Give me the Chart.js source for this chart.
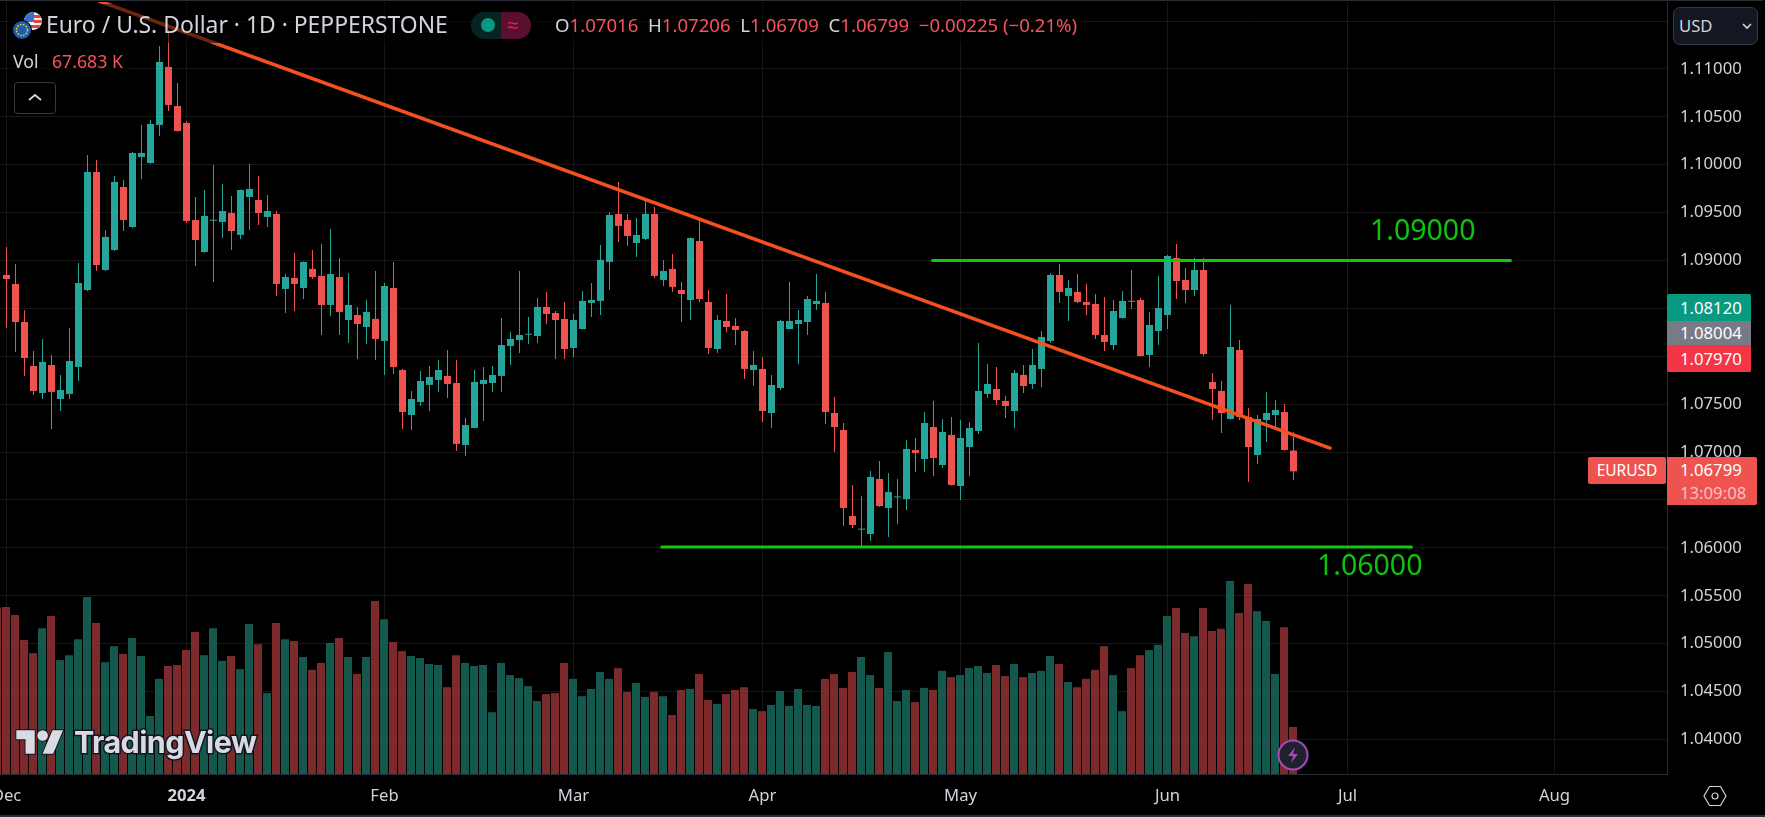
<!DOCTYPE html>
<html>
<head>
<meta charset="utf-8">
<title>EURUSD 1D</title>
<script src="https://cdn.jsdelivr.net/npm/chart.js@4/dist/chart.umd.min.js"></script>
<style>
    html, body { margin: 0; padding: 0; background: #000; overflow: hidden; }
    body { width: 1765px; height: 817px; position: relative; font-family: "Noto Sans", sans-serif; color: #d1d4dc; }
    canvas { position: absolute; left: 0; top: 0; }
    .abs { position: absolute; white-space: nowrap; }
    .up { color: #f7525f; }
    .tag { position: absolute; left: 1667px; width: 84px; padding-left: 13px; box-sizing: border-box; color: #fff; font-size: 16.7px; }
</style>
</head>
<body>
<canvas id="the-chart" width="1765" height="817"></canvas>

<div class="abs" style="left:0;top:0;width:1763px;height:1px;background:#2a2e39"></div>
<div class="abs" style="left:0;top:815px;width:1765px;height:2px;background:#2a2e39"></div>

<!-- legend, translucent so the trend line fades under it -->
<div class="abs" style="left:8px;top:4px;width:1076px;height:39px;background:rgba(0,0,0,.55)"></div>
<div class="abs" style="left:8px;top:47px;width:122px;height:27px;background:rgba(0,0,0,.55)"></div>
<svg class="abs" style="left:10px;top:10px" width="34" height="32" viewBox="0 0 34 32">
    <defs><clipPath id="us"><circle cx="23" cy="11" r="9"/></clipPath></defs>
    <g clip-path="url(#us)">
        <rect x="14" y="2" width="18" height="18" fill="#f5f5f5"/>
        <rect x="24" y="5" width="8" height="3" fill="#e04545"/>
        <rect x="24" y="10" width="8" height="3" fill="#e04545"/>
        <rect x="18" y="15" width="14" height="3" fill="#e04545"/>
        <rect x="14" y="2" width="10" height="10" fill="#3d6fd0"/>
    </g>
    <circle cx="12" cy="20" r="10" fill="#000"/>
    <circle cx="12" cy="20" r="9" fill="#1a5cb0"/>
    <circle cx="12" cy="20" r="5.5" fill="none" stroke="#e8c832" stroke-width="1.6" stroke-dasharray="1.6 1.3"/>
</svg>
<div class="abs" style="left:46px;top:9px;font-size:22.9px;line-height:32px">Euro / U.S. Dollar · 1D · PEPPERSTONE</div>
<div class="abs" style="left:471px;top:12px;width:30px;height:27px;background:#082420;border-radius:14px 0 0 14px"></div>
<div class="abs" style="left:501px;top:12px;width:30px;height:27px;background:#5b0f2e;border-radius:0 14px 14px 0;color:#e91e63;font-size:20px;line-height:25px;text-align:center;padding-right:6px;box-sizing:border-box">≈</div>
<div class="abs" style="left:481px;top:18px;width:14px;height:14px;border-radius:7px;background:#089981"></div>
<div class="abs" style="left:555px;top:12px;font-size:18.6px;line-height:26px">O<span class="up">1.07016</span>&nbsp;&nbsp;H<span class="up">1.07206</span>&nbsp;&nbsp;L<span class="up">1.06709</span>&nbsp;&nbsp;C<span class="up">1.06799</span>&nbsp;&nbsp;<span class="up">−0.00225 (−0.21%)</span></div>
<div class="abs" style="left:13px;top:48px;font-size:17.7px;line-height:26px">Vol</div>
<div class="abs up" style="left:52px;top:48px;font-size:17.7px;line-height:26px">67.683 K</div>
<div class="abs" style="left:14px;top:82px;width:40px;height:30px;border:1px solid #363a45;border-radius:4px;box-sizing:content-box">
    <svg width="40" height="30" viewBox="0 0 40 30"><path d="M14 17l6-5 6 5" fill="none" stroke="#d1d4dc" stroke-width="1.8"/></svg>
</div>

<!-- drawn labels next to the levels -->
<div class="abs" style="left:1370px;top:209px;font-size:28.5px;line-height:40px;color:#0fc20f">1.09000</div>
<div class="abs" style="left:1317px;top:544px;font-size:28.5px;line-height:40px;color:#0fc20f">1.06000</div>

<!-- currency button -->
<div class="abs" style="left:1673px;top:7px;width:83px;height:36px;background:#131722;border:1px solid #363a45;border-radius:7px;font-size:16.7px;line-height:36px">
    <span style="margin-left:5px">USD</span>
    <svg style="position:absolute;left:67px;top:14px" width="12" height="8" viewBox="0 0 12 8"><path d="M2 2l4 4 4-4" fill="none" stroke="#d1d4dc" stroke-width="1.6"/></svg>
</div>

<!-- price scale tags -->
<div class="tag" style="top:294px;height:27px;line-height:27px;background:#089981;border-radius:2px 2px 0 0">1.08120</div>
<div class="tag" style="top:321px;height:24px;line-height:24px;background:#787b86">1.08004</div>
<div class="tag" style="top:345px;height:27px;line-height:27px;background:#f23645;border-radius:0 0 2px 2px">1.07970</div>
<div class="abs" style="left:1588px;top:457px;width:78px;height:27px;line-height:27px;background:#ef5350;border-radius:2px;color:#fff;font-size:15.5px;text-align:center">EURUSD</div>
<div class="abs" style="left:1667px;top:457px;width:90px;height:48px;background:#ef5350;border-radius:0 2px 2px 0;color:#fff;font-size:16.7px;padding-left:13px;box-sizing:border-box">
    <div style="line-height:25px">1.06799</div>
    <div style="line-height:22px;color:rgba(255,255,255,.65)">13:09:08</div>
</div>

<!-- watermark -->
<svg class="abs" style="left:15px;top:728px" width="50" height="28" viewBox="-1 3 38 20">
    <path d="M14 22H7V11H0V4h14v18zM28 22h-8l7.5-18h8L28 22z" fill="#d9dae3" stroke="#131722" stroke-width="1.4" paint-order="stroke"/>
    <circle cx="20" cy="8" r="4" fill="#d9dae3" stroke="#131722" stroke-width="1.4" paint-order="stroke"/>
</svg>
<div class="abs" style="left:74px;top:722px;font-family:Inter,sans-serif;font-weight:700;font-size:30.5px;line-height:40px;letter-spacing:-.6px;color:#d9dae3;-webkit-text-stroke:3px #131722;paint-order:stroke fill">TradingView</div>

<!-- lightning badge -->
<svg class="abs" style="left:1277px;top:739px" width="32" height="32" viewBox="0 0 32 32">
    <circle cx="16" cy="16" r="14.5" fill="#1e222d" stroke="#ab47bc" stroke-width="2"/>
    <path d="M18 8l-7 9h5l-2 7 7-9h-5z" fill="#ab47bc"/>
</svg>

<!-- settings icon -->
<svg class="abs" style="left:1703px;top:785px" width="24" height="22" viewBox="0 0 24 22">
    <path d="M6.5 1.5h11L23 11l-5.5 9.5h-11L1 11z" fill="none" stroke="#d1d4dc" stroke-width="1.2"/>
    <circle cx="12" cy="11" r="3" fill="none" stroke="#d1d4dc" stroke-width="1.2"/>
</svg>

<script>
/*
 *  Daily EURUSD candles, one entry per bar
 */

const opens = [
    1.08849,1.08755,1.08358,1.07899,1.07617,1.07909,1.07554,1.07607,1.07889,1.08692,1.09924,1.08901,
    1.09110,1.09768,1.09350,1.10081,1.10018,1.10415,1.11021,1.10613,1.10436,1.09423,1.09089,1.09415,
    1.09402,1.09496,1.09267,1.09663,1.09632,1.09455,1.09486,1.08703,1.08818,1.08713,1.08912,1.08839,
    1.08536,1.08828,1.08379,1.08431,1.08306,1.08390,1.08160,1.08713,1.07857,1.07387,1.07523,1.07701,
    1.07753,1.07795,1.07721,1.07074,1.07252,1.07711,1.07721,1.07795,1.08108,1.08170,1.08225,1.08212,
    1.08515,1.08452,1.08390,1.08087,1.08285,1.08557,1.08578,1.08985,1.09486,1.09423,1.09183,1.09225,
    1.09486,1.08797,1.08912,1.08692,1.08588,1.09204,1.08567,1.08076,1.08369,1.08317,1.08264,1.07857,
    1.07868,1.07408,1.07669,1.08285,1.08337,1.08358,1.08546,1.08557,1.07408,1.07231,1.06333,1.06190,
    1.06145,1.06719,1.06416,1.06526,1.06510,1.07022,1.06928,1.07262,1.06865,1.07179,1.06646,1.07053,
    1.07220,1.07607,1.07659,1.07534,1.07429,1.07805,1.07711,1.07868,1.08160,1.08849,1.08630,1.08672,
    1.08567,1.08546,1.08223,1.08118,1.08400,1.08579,1.08588,1.08014,1.08264,1.08431,1.09026,1.08797,
    1.08692,1.08901,1.07732,1.07638,1.07346,1.08066,1.07367,1.06970,1.07335,1.07387,1.07419,1.07016
];
const highs = [
    1.09141,1.08964,1.08480,1.08056,1.08181,1.08014,1.07805,1.08296,1.08974,1.10102,1.10050,1.09319,
    1.09883,1.09841,1.10133,1.10415,1.10467,1.11240,1.11407,1.10853,1.10457,1.09663,1.09736,1.09997,
    1.09799,1.09674,1.09740,1.10008,1.09883,1.09684,1.09517,1.08859,1.09079,1.08990,1.09110,1.09173,
    1.09329,1.09026,1.08870,1.08515,1.08588,1.08891,1.08765,1.08985,1.07868,1.07638,1.07847,1.07899,
    1.07962,1.08066,1.07962,1.07356,1.07857,1.07889,1.07899,1.08400,1.08254,1.08891,1.08411,1.08609,
    1.08672,1.08473,1.08567,1.08442,1.08682,1.08765,1.09162,1.09507,1.09820,1.09486,1.09444,1.09632,
    1.09559,1.09006,1.09068,1.08776,1.09240,1.09423,1.08692,1.08431,1.08651,1.08400,1.08275,1.08056,
    1.07993,1.07805,1.08379,1.08776,1.08484,1.08630,1.08859,1.08672,1.07575,1.07304,1.06657,1.06542,
    1.06803,1.06907,1.06782,1.06719,1.07126,1.07147,1.07419,1.07534,1.07346,1.07367,1.07335,1.07314,
    1.08139,1.07920,1.07889,1.07586,1.07857,1.07909,1.08076,1.08264,1.08870,1.08964,1.08797,1.08859,
    1.08755,1.08651,1.08619,1.08588,1.08682,1.08901,1.08609,1.08463,1.08839,1.09058,1.09173,1.08922,
    1.09026,1.09026,1.07826,1.07742,1.08536,1.08170,1.07460,1.07387,1.07628,1.07544,1.07502,1.07206
];
const lows = [
    1.08299,1.08045,1.07795,1.07596,1.07554,1.07241,1.07429,1.07554,1.07742,1.08680,1.08891,1.08890,
    1.09100,1.09308,1.09340,1.09851,1.10010,1.10300,1.10561,1.10345,1.09392,1.08943,1.09080,1.08776,
    1.09235,1.09110,1.09225,1.09319,1.09371,1.09350,1.08630,1.08452,1.08473,1.08598,1.08807,1.08223,
    1.08421,1.08223,1.08139,1.07972,1.08129,1.07962,1.07805,1.07815,1.07241,1.07231,1.07481,1.07429,
    1.07628,1.07565,1.07012,1.06959,1.07245,1.07325,1.07628,1.07628,1.07909,1.08035,1.08129,1.08139,
    1.08337,1.07972,1.07972,1.07993,1.08280,1.08411,1.08431,1.08692,1.09194,1.09152,1.09037,1.09214,
    1.08818,1.08734,1.08672,1.08358,1.08379,1.08567,1.08024,1.08035,1.08254,1.08118,1.07763,1.07690,
    1.07314,1.07252,1.07648,1.08280,1.07920,1.08223,1.08484,1.07293,1.07001,1.06229,1.06208,1.06013,
    1.06072,1.06427,1.06114,1.06249,1.06396,1.06792,1.06792,1.06751,1.06834,1.06650,1.06500,1.06751,
    1.07189,1.07565,1.07492,1.07356,1.07252,1.07617,1.07659,1.07680,1.08139,1.08557,1.08369,1.08557,
    1.08431,1.08181,1.08056,1.08066,1.08395,1.08494,1.07998,1.07889,1.08118,1.08285,1.08598,1.08557,
    1.08630,1.08003,1.07335,1.07199,1.07340,1.07335,1.06688,1.06876,1.07106,1.07241,1.07015,1.06709
];
const closes = [
    1.08807,1.08358,1.07982,1.07638,1.07941,1.07628,1.07648,1.07951,1.08765,1.09924,1.08953,1.09246,
    1.09820,1.09423,1.10123,1.10123,1.10425,1.11073,1.10624,1.10352,1.09413,1.09214,1.09465,1.09425,
    1.09517,1.09308,1.09736,1.09747,1.09496,1.09517,1.08755,1.08828,1.08755,1.08985,1.08828,1.08536,
    1.08859,1.08463,1.08536,1.08337,1.08463,1.08181,1.08734,1.07889,1.07419,1.07554,1.07742,1.07784,
    1.07857,1.07711,1.07085,1.07283,1.07732,1.07753,1.07805,1.08118,1.08181,1.08223,1.08235,1.08515,
    1.08442,1.08379,1.08076,1.08379,1.08578,1.08588,1.09006,1.09475,1.09361,1.09256,1.09267,1.09486,
    1.08839,1.08891,1.08724,1.08651,1.09235,1.08598,1.08087,1.08379,1.08306,1.08275,1.07868,1.07909,
    1.07429,1.07701,1.08369,1.08369,1.08379,1.08598,1.08578,1.07419,1.07262,1.06416,1.06239,1.06200,
    1.06740,1.06437,1.06584,1.06536,1.07032,1.06991,1.07304,1.06938,1.07210,1.06657,1.07147,1.07252,
    1.07638,1.07711,1.07544,1.07481,1.07826,1.07690,1.07909,1.08202,1.08849,1.08672,1.08713,1.08567,
    1.08536,1.08223,1.08150,1.08473,1.08578,1.08569,1.08003,1.08327,1.08504,1.09047,1.08786,1.08692,
    1.08901,1.08024,1.07659,1.07408,1.08097,1.07367,1.07053,1.07346,1.07408,1.07440,1.07022,1.06799
];

// volume in thousands, first entry is the half visible bar left of the first candle
const volumes = [
    239.5,240.5,229,193,174,210,227.5,164,171,194,255,217.5,161,184,173,196,170,83.5,137,155.5,157,178.5,204.5,
    171,210,163,170,151,216,187,116.5,217.5,194,191.5,168.5,150,160,188.5,196,168.5,144,168.5,249,223,190,177,
    170,167,158.5,157,125,171,160,155.5,157,89,160,142.5,138,126.5,105,115,116.5,160,137,112,122.5,147,137,
    152.5,118,131,111,118,112,85,121,122.5,144,106.5,101,115,121,125,93.5,90.5,99.5,119.5,98,122.5,99.5,98,
    137,144,124,147,168.5,142.5,124,175.5,105,121,103.5,124,121,148.5,139.5,142.5,152.5,155.5,145.5,157,141,
    158.5,139.5,145.5,148.5,170,158.5,132.5,125,137,150,184,142.5,90.5,152.5,171,178.5,186,227.5,239,203,198.5,
    239,206,209,278,232,273.5,234.5,220.5,144,211.5,67.683
];
const firstVolumeBar = -1;

// month ticks, in bars counted from the first candle
const monthTicks = [0, 20, 42, 63, 84, 106, 129, 149, 172];
const monthLabels = ['Dec', '2024', 'Feb', 'Mar', 'Apr', 'May', 'Jun', 'Jul', 'Aug'];

// drawn levels and trend line: [bar, price]
const trendLine = [[10.28, 1.11709], [147.06, 1.07042]];
const topLevel = [[102.9, 1.09], [167.1, 1.09]];
const bottomLevel = [[72.8, 1.0601], [156.1, 1.0601]];

const candleUp = '#26a69a', candleDown = '#ef5350';
const volumeUp = '#14584e', volumeDown = '#7c2a2c';

const isUp = (i) => closes[i] >= opens[i];
const toPoints = (line) => line.map((p) => ({x: p[0], y: p[1]}));

document.addEventListener('DOMContentLoaded', () => {
    const wicks = highs.map((h, i) => ({x: i, y: [lows[i], h]}));
    const bodies = opens.map((o, i) => ({x: i, y: [o, closes[i]]}));
    const volumeBars = volumes.map((v, i) => ({x: i + firstVolumeBar, y: v}));

    const candleColors = opens.map((o, i) => isUp(i) ? candleUp : candleDown);
    const volumeColors = volumes.map((v, i) => {
        let bar = i + firstVolumeBar;
        return bar < 0 || !isUp(bar) ? volumeDown : volumeUp;
    });

    const lineSet = (line, color, width) => ({
        type: 'line',
        data: toPoints(line),
        borderColor: color,
        borderWidth: width,
        borderCapStyle: 'round',
        pointRadius: 0,
        tension: 0,
        xAxisID: 'x',
        yAxisID: 'y',
        order: 0
    });

    new Chart(document.getElementById('the-chart').getContext('2d'), {
        type: 'bar',
        data: {
            datasets: [
                lineSet(trendLine, '#f4511e', 3.5),
                lineSet(topLevel, '#0fc90f', 3),
                lineSet(bottomLevel, '#0fc90f', 3),
                {
                    data: bodies,
                    backgroundColor: candleColors,
                    barThickness: 7,
                    minBarLength: 1,
                    grouped: false,
                    inflateAmount: 0,
                    xAxisID: 'x',
                    yAxisID: 'y',
                    order: 1
                },
                {
                    data: wicks,
                    backgroundColor: candleColors,
                    barThickness: 1,
                    grouped: false,
                    inflateAmount: 0,
                    xAxisID: 'x',
                    yAxisID: 'y',
                    order: 2
                },
                {
                    data: volumeBars,
                    backgroundColor: volumeColors,
                    barThickness: 8,
                    grouped: false,
                    inflateAmount: 0,
                    xAxisID: 'xVol',
                    yAxisID: 'yVol',
                    order: 3
                }
            ]
        },
        options: {
            responsive: false,
            animation: false,
            events: [],
            layout: {padding: {top: 2, left: 0, right: 0, bottom: 0}},
            plugins: {legend: {display: false}, tooltip: {enabled: false}, title: {display: false}},
            scales: {
                x: {
                    type: 'linear',
                    offset: false,
                    min: -6.5 / 9,
                    max: 1660.5 / 9,
                    grid: {color: '#171717', offset: false, drawTicks: false},
                    border: {display: true, color: '#2a2e39'},
                    afterBuildTicks: (scale) => { scale.ticks = monthTicks.map((v) => ({value: v})); },
                    afterFit: (scale) => { scale.height = 43; scale.paddingLeft = 0; scale.paddingRight = 0; },
                    ticks: {
                        autoSkip: false,
                        maxRotation: 0,
                        padding: 12,
                        color: '#d1d4dc',
                        font: (ctx) => ({
                            family: '"Noto Sans", sans-serif',
                            size: 16.7,
                            weight: monthLabels[monthTicks.indexOf(ctx.tick ? ctx.tick.value : -1)] === '2024' ? '700' : '400'
                        }),
                        callback: (value) => monthLabels[monthTicks.indexOf(value)]
                    }
                },
                y: {
                    position: 'right',
                    min: 1.036393,
                    max: 1.116986,
                    grid: {color: '#171717', drawTicks: false},
                    border: {display: true, color: '#2a2e39'},
                    afterFit: (scale) => { scale.width = 98; scale.paddingTop = 0; scale.paddingBottom = 0; },
                    ticks: {
                        stepSize: 0.005,
                        includeBounds: false,
                        padding: 13,
                        color: '#d1d4dc',
                        font: {family: '"Noto Sans", sans-serif', size: 16.7},
                        callback: (value) => value.toFixed(5)
                    }
                },
                xVol: {
                    type: 'linear',
                    display: false,
                    offset: false,
                    min: -6 / 9,
                    max: 1661 / 9
                },
                yVol: {
                    display: false,
                    min: 0,
                    max: 1111.7
                }
            }
        }
    });
});
</script>
</body>
</html>
